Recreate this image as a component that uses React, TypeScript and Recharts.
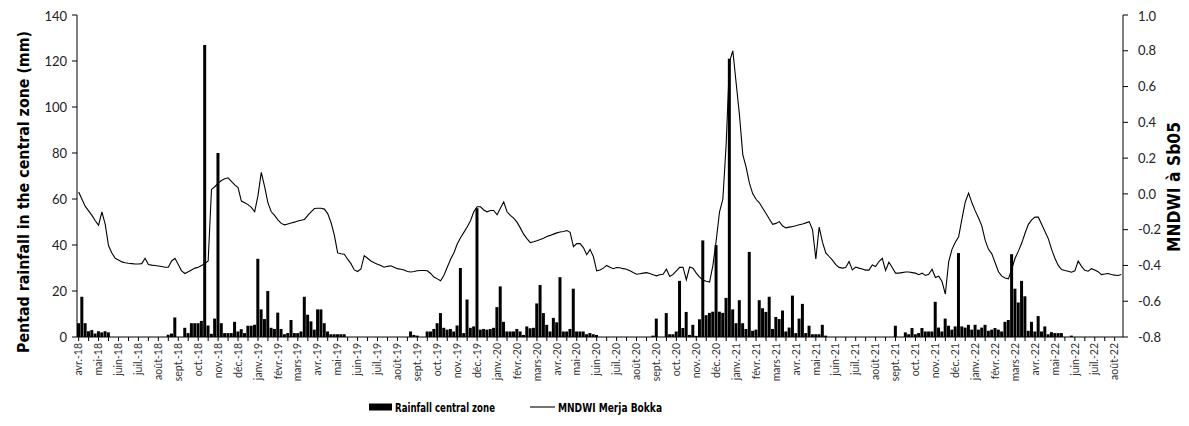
import { ComposedChart, Bar, Line, XAxis, YAxis } from 'recharts';

const months = [
  'avr.-18', 'mai-18', 'juin-18', 'juil.-18', 'août-18', 'sept.-18', 'oct.-18', 'nov.-18', 'déc.-18',
  'janv.-19', 'févr.-19', 'mars-19', 'avr.-19', 'mai-19', 'juin-19', 'juil.-19', 'août-19', 'sept.-19',
  'oct.-19', 'nov.-19', 'déc.-19', 'janv.-20', 'févr.-20', 'mars-20', 'avr.-20', 'mai-20', 'juin-20',
  'juil.-20', 'août-20', 'sept.-20', 'oct.-20', 'nov.-20', 'déc.-20', 'janv.-21', 'févr.-21', 'mars-21',
  'avr.-21', 'mai-21', 'juin-21', 'juil.-21', 'août-21', 'sept.-21', 'oct.-21', 'nov.-21', 'déc.-21',
  'janv.-22', 'févr.-22', 'mars-22', 'avr.-22', 'mai-22', 'juin-22', 'juil.-22', 'août-22',
];

// pentad rainfall (mm), one row per month (6 pentads)
const rainfallByMonth = [
  [6, 17.5, 6, 2.5, 3, 1.5],
  [2.5, 2, 2.5, 2, 0, 0],
  [0, 0, 0, 0, 0, 0],
  [0, 0, 0, 0, 0, 0],
  [0, 0, 0, 1, 1.5, 8.5],
  [0, 0, 4, 1.7, 6, 6],
  [6, 7, 127, 5, 1.4, 8],
  [80, 6, 1.7, 1.7, 1.7, 6.6],
  [2.4, 3.4, 1.7, 4.9, 4.9, 5.3],
  [34, 12, 7.8, 20, 4, 3.5],
  [10.6, 3.5, 1.2, 1.7, 7.4, 1.7],
  [1.7, 2.4, 17.5, 9.7, 6.8, 3.2],
  [12, 12, 6, 2.4, 1.2, 1.2],
  [1.2, 1.2, 1.2, 0, 0, 0],
  [0, 0, 0, 0, 0, 0],
  [0, 0, 0, 0, 0, 0],
  [0, 0, 0, 0, 2.4, 0.9],
  [0.6, 0, 0, 2.4, 2.4, 3.5],
  [6, 10.4, 4, 3.2, 3.5, 2.4],
  [5, 30, 1.7, 16.3, 4, 4.6],
  [56, 3.2, 3.5, 3.2, 3.5, 4],
  [13, 22, 6.6, 2.4, 2.4, 2.4],
  [3.5, 2.4, 0.9, 4.6, 3.8, 4],
  [14.6, 22.6, 10.4, 5.3, 2.4, 8.3],
  [6.4, 26, 2.4, 2.4, 3.5, 21],
  [2.4, 2.4, 2.4, 1.2, 1.7, 1.2],
  [0.9, 0, 0, 0, 0, 0],
  [0, 0, 0, 0, 0, 0],
  [0, 0, 0, 0, 0, 0.6],
  [8, 0, 0, 10.4, 1.2, 1.2],
  [2.4, 24.4, 3.9, 10.9, 0.9, 5.3],
  [0.5, 7.7, 42, 9.5, 10.5, 11],
  [40, 11, 10.5, 17, 121, 12],
  [6, 16, 6, 3.5, 37, 2.7],
  [3.2, 16, 12.5, 10.9, 17.5, 3.5],
  [8.7, 7.8, 11.5, 2.4, 4.1, 18],
  [1.7, 8, 14.4, 1.7, 4.9, 1.2],
  [1.2, 1.2, 5.3, 0.6, 0, 0],
  [0, 0, 0, 0, 0, 0],
  [0, 0, 0, 0, 0, 0],
  [0, 0, 0, 0, 0, 0],
  [4.9, 0, 0, 2, 1.2, 3.9],
  [1.2, 1.7, 3.9, 2.4, 2.4, 2.4],
  [15.3, 4.1, 2.4, 8, 4.9, 3.2],
  [4.6, 36.5, 4.6, 4.1, 5.3, 3.2],
  [5.3, 3.2, 4.1, 5.3, 2.7, 3.2],
  [3.9, 3.2, 2.4, 6.6, 7.4, 36],
  [21, 15, 24.4, 17.7, 2.7, 6.6],
  [2.4, 9.1, 2.4, 4.6, 1.2, 2.1],
  [1.7, 1.7, 1.7, 0, 0, 0.6],
  [0, 0, 0, 0, 0, 0],
  [0, 0, 0, 0, 0, 0],
  [0, 0, 0],
];

// MNDWI Merja Bokka, same pentads
const mndwiByMonth = [
  [0.01, -0.03, -0.07, -0.095, -0.12, -0.15],
  [-0.175, -0.1, -0.17, -0.29, -0.33, -0.36],
  [-0.37, -0.38, -0.385, -0.388, -0.39, -0.392],
  [-0.392, -0.39, -0.36, -0.395, -0.398, -0.4],
  [-0.403, -0.406, -0.41, -0.41, -0.375, -0.36],
  [-0.395, -0.43, -0.445, -0.435, -0.425, -0.415],
  [-0.41, -0.4, -0.39, -0.375, 0.025, 0.04],
  [0.06, 0.075, 0.085, 0.09, 0.07, 0.05],
  [0.035, -0.04, -0.05, -0.06, -0.075, -0.1],
  [-0.01, 0.12, 0.04, -0.05, -0.1, -0.12],
  [-0.145, -0.165, -0.173, -0.168, -0.163, -0.158],
  [-0.152, -0.147, -0.143, -0.12, -0.1, -0.082],
  [-0.08, -0.08, -0.085, -0.11, -0.16, -0.23],
  [-0.33, -0.335, -0.337, -0.365, -0.39, -0.425],
  [-0.434, -0.42, -0.345, -0.36, -0.375, -0.385],
  [-0.393, -0.4, -0.41, -0.405, -0.402, -0.41],
  [-0.418, -0.421, -0.425, -0.434, -0.437, -0.434],
  [-0.43, -0.428, -0.428, -0.43, -0.445, -0.465],
  [-0.475, -0.486, -0.455, -0.41, -0.365, -0.33],
  [-0.28, -0.245, -0.215, -0.185, -0.15, -0.1],
  [-0.072, -0.072, -0.09, -0.1, -0.093, -0.093],
  [-0.117, -0.08, -0.045, -0.1, -0.12, -0.135],
  [-0.158, -0.19, -0.225, -0.25, -0.272, -0.268],
  [-0.262, -0.255, -0.248, -0.238, -0.232, -0.225],
  [-0.218, -0.213, -0.21, -0.205, -0.215, -0.295],
  [-0.278, -0.278, -0.3, -0.34, -0.31, -0.35],
  [-0.43, -0.425, -0.415, -0.4, -0.41, -0.418],
  [-0.412, -0.413, -0.418, -0.421, -0.43, -0.44],
  [-0.449, -0.446, -0.443, -0.44, -0.445, -0.452],
  [-0.458, -0.452, -0.449, -0.421, -0.462, -0.45],
  [-0.43, -0.411, -0.41, -0.48, -0.409, -0.415],
  [-0.443, -0.465, -0.482, -0.488, -0.493, -0.4],
  [-0.26, -0.1, -0.03, 0.28, 0.74, 0.8],
  [0.62, 0.44, 0.22, 0.15, 0.06, 0],
  [-0.03, -0.05, -0.08, -0.11, -0.14, -0.17],
  [-0.165, -0.155, -0.18, -0.19, -0.186, -0.182],
  [-0.178, -0.172, -0.168, -0.162, -0.155, -0.2],
  [-0.363, -0.186, -0.27, -0.33, -0.35, -0.37],
  [-0.395, -0.411, -0.415, -0.412, -0.378, -0.425],
  [-0.409, -0.415, -0.42, -0.426, -0.426, -0.397],
  [-0.406, -0.378, -0.36, -0.428, -0.382, -0.411],
  [-0.443, -0.443, -0.44, -0.437, -0.437, -0.44],
  [-0.443, -0.452, -0.443, -0.456, -0.449, -0.421],
  [-0.467, -0.46, -0.49, -0.56, -0.38, -0.31],
  [-0.27, -0.24, -0.14, -0.045, 0.004, -0.05],
  [-0.095, -0.135, -0.18, -0.26, -0.31, -0.335],
  [-0.385, -0.435, -0.46, -0.47, -0.475, -0.42],
  [-0.36, -0.32, -0.275, -0.22, -0.17, -0.145],
  [-0.13, -0.13, -0.17, -0.21, -0.25, -0.31],
  [-0.36, -0.4, -0.423, -0.428, -0.432, -0.438],
  [-0.43, -0.375, -0.405, -0.427, -0.432, -0.418],
  [-0.425, -0.435, -0.451, -0.448, -0.445, -0.451],
  [-0.454, -0.456, -0.451],
];

const rainTicks = [0, 20, 40, 60, 80, 100, 120, 140];
const mndwiTicks = [-0.8, -0.6, -0.4, -0.2, 0, 0.2, 0.4, 0.6, 0.8, 1.0];

const rainfall = rainfallByMonth.flat();
const mndwi = mndwiByMonth.flat();
const data = rainfall.map((rain, i) => ({ idx: i, rain, mndwi: mndwi[i] }));

const W = 1173;
const H = 410;
const titleFont = "'Liberation Sans Narrow', 'DejaVu Sans Condensed', 'Noto Sans', sans-serif";
const tickFont = 'Lato, sans-serif';

const MonthTick = (props: any) => {
  const { x, y, payload } = props;
  const i = payload.value as number;
  if (i % 6 !== 0) return <g />;
  return (
    <text
      x={x}
      y={y}
      transform={`rotate(-90 ${x} ${y})`}
      textAnchor="end"
      dy="0.35em"
      fontSize={10.5}
      fontFamily={tickFont}
      fill="#333"
    >
      {months[i / 6]}
    </text>
  );
};

const App = () => {
  return (
    <div style={{ position: 'relative', width: W, height: H, background: '#fff' }}>
      <ComposedChart
        width={W}
        height={384}
        data={data}
        margin={{ top: 7, right: 0, bottom: 0, left: 0 }}
        barCategoryGap={0}
      >
        <XAxis
          dataKey="idx"
          type="category"
          interval={2}
          height={55}
          tickSize={4}
          tickMargin={2}
          tick={<MonthTick />}
          axisLine={{ stroke: '#000' }}
          tickLine={{ stroke: '#000' }}
        />
        <YAxis
          yAxisId="l"
          domain={[0, 140]}
          ticks={rainTicks}
          width={69}
          tickSize={5}
          tickMargin={5}
          axisLine={{ stroke: '#000' }}
          tickLine={{ stroke: '#000' }}
          tick={{ fontSize: 13, fill: '#222', fontFamily: tickFont }}
        />
        <YAxis
          yAxisId="r"
          orientation="right"
          domain={[-0.8, 1]}
          ticks={mndwiTicks}
          tickFormatter={(v: number) => v.toFixed(1)}
          width={58}
          tickSize={5}
          tickMargin={10}
          axisLine={{ stroke: '#000' }}
          tickLine={{ stroke: '#000' }}
          tick={{ fontSize: 13, fill: '#222', fontFamily: tickFont, textAnchor: 'start' }}
        />
        <Bar yAxisId="l" dataKey="rain" fill="#000" isAnimationActive={false} />
        <Line
          yAxisId="r"
          dataKey="mndwi"
          type="linear"
          stroke="#000"
          strokeWidth={1.1}
          dot={false}
          isAnimationActive={false}
        />
      </ComposedChart>

      {/* axis titles and legend */}
      <svg
        width={W}
        height={H}
        style={{ position: 'absolute', left: 0, top: 0, pointerEvents: 'none', overflow: 'visible' }}
      >
        <text
          x={15}
          y={184}
          transform="rotate(-90 15 184)"
          textAnchor="middle"
          dy="0.35em"
          fontSize={16}
          fontWeight="bold"
          fontFamily={titleFont}
          textLength={322}
          lengthAdjust="spacingAndGlyphs"
        >
          Pentad rainfall in the central zone (mm)
        </text>
        <text
          x={1166}
          y={179}
          transform="rotate(-90 1166 179)"
          textAnchor="middle"
          dy="0.35em"
          fontSize={17}
          fontWeight="bold"
          fontFamily={titleFont}
          textLength={130}
          lengthAdjust="spacingAndGlyphs"
        >
          MNDWI à Sb05
        </text>

        <rect x={361} y={395.5} width={23} height={7} fill="#000" />
        <text
          x={387}
          y={399}
          dy="0.35em"
          fontSize={13}
          fontWeight="bold"
          fontFamily={titleFont}
          textLength={100}
          lengthAdjust="spacingAndGlyphs"
        >
          Rainfall central zone
        </text>
        <line x1={522} x2={547} y1={399} y2={399} stroke="#000" strokeWidth={1.1} />
        <text
          x={550}
          y={399}
          dy="0.35em"
          fontSize={13}
          fontWeight="bold"
          fontFamily={titleFont}
          textLength={104}
          lengthAdjust="spacingAndGlyphs"
        >
          MNDWI Merja Bokka
        </text>
      </svg>
    </div>
  );
};

export default App;
